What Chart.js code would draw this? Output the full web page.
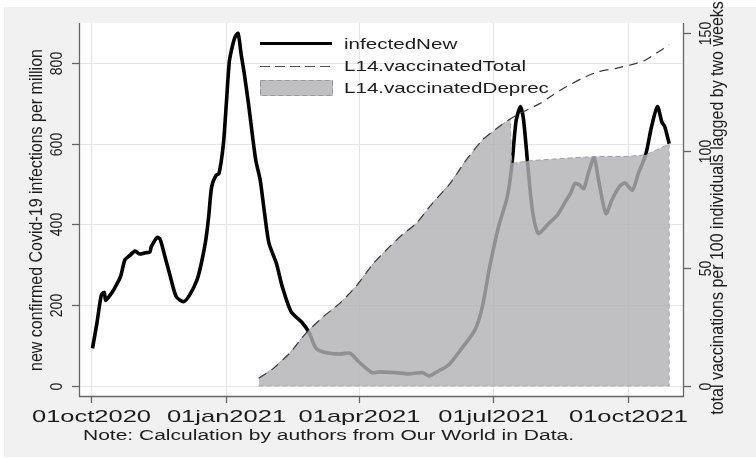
<!DOCTYPE html>
<html>
<head>
<meta charset="utf-8">
<script src="https://cdn.jsdelivr.net/npm/chart.js@4.4.1/dist/chart.umd.min.js"></script>
<style>
    body { margin: 0; background: #fff; }
    canvas { display: block; }
</style>
</head>
<body>
<canvas id="covidChart" width="756" height="458"></canvas>
<script>
// days since 01oct2020
var infDays = [1, 4, 7, 9, 10, 13, 16, 20, 23, 26, 30, 33, 37, 40, 41, 45, 47, 50, 54, 58, 63, 67, 72, 75, 78, 80, 82, 85, 87, 90,
    92, 94, 96, 98, 100, 102, 104, 107, 109, 112, 115, 118, 121, 126, 130, 136, 143, 148, 153, 159, 169, 176, 182, 191, 196,
    207, 216, 225, 230, 234, 243, 252, 261, 266, 271, 277, 283, 286, 289, 292, 294, 297, 300, 304, 309, 311, 317, 323, 326,
    329, 332, 335, 338, 342, 345, 350, 354, 359, 363, 368, 372, 377, 381, 385, 388, 390, 393];
var infValues = [93, 155, 225, 232, 212, 225, 242, 270, 312, 322, 334, 327, 330, 332, 345, 368, 363, 324, 270, 221, 209, 225, 262, 304, 361, 420, 493, 522, 526, 600,
    700, 803, 840, 865, 873, 823, 778, 700, 642, 559, 510, 427, 353, 304, 246, 184, 159, 134, 93, 83, 79, 81, 60, 33, 35,
    33, 30, 33, 25, 33, 52, 93, 139, 196, 295, 394, 469, 545, 658, 692, 660, 543, 436, 378, 394, 402, 423, 460, 477,
    502, 498, 489, 526, 565, 510, 427, 460, 493, 503, 485, 526, 572, 642, 692, 654, 642, 600];

var totalDays = [114, 124, 135, 146, 158, 169, 180, 192, 203, 212, 221, 232, 244, 255, 266, 278, 285, 289, 305, 314, 323, 334, 345, 357, 370, 377, 384, 393];
var totalValues = [3.3, 7.5, 13.9, 22.4, 29.5, 35.1, 42.2, 52.1, 59.2, 64.5, 69, 77.6, 86, 96, 104.5, 110.5, 113.5, 115, 120, 123.7, 127.2, 130.8, 133.6, 135, 137, 138.5, 141.3, 145];

var deprecDays = [114, 124, 135, 146, 158, 169, 180, 192, 203, 212, 221, 232, 244, 255, 266, 278, 285, 286, 300, 323, 343, 363, 377, 393];
var deprecValues = [3.3, 7.5, 13.9, 22.4, 29.5, 35.1, 42.2, 52.1, 59.2, 64.5, 69, 77.6, 86, 96, 104.5, 110.5, 113.5, 94.6, 95.8, 96.8, 97.5, 97.5, 98.2, 102.8];

var xTickDays = [0, 92, 182, 273, 365];
var xTickLabels = ['01oct2020', '01jan2021', '01apr2021', '01jul2021', '01oct2021'];
var yLeftTicks = [0, 200, 400, 600, 800];
var yRightTicks = [0, 50, 100, 150];

var seriesNames = ['infectedNew', 'L14.vaccinatedTotal', 'L14.vaccinatedDeprec'];
var noteText = 'Note: Calculation by authors from Our World in Data.';

var fillColor = 'rgba(177,178,180,0.81)';
var textColor = '#1c1c1c';

function toPoints(days, vals) {
    return days.map(function (d, i) { return { x: d, y: vals[i] }; });
}

// Stata-like wide text: stretched horizontally
function wideText(ctx, txt, x, y, size, sx, align, rot) {
    ctx.save();
    ctx.translate(x, y);
    ctx.scale(sx, 1);
    if (rot) ctx.rotate(rot);
    ctx.font = size + 'px "Liberation Sans", Arial, sans-serif';
    ctx.fillStyle = textColor;
    ctx.textAlign = align;
    ctx.textBaseline = 'alphabetic';
    ctx.fillText(txt, 0, 0);
    ctx.restore();
}

var stataLook = {
    id: 'stataLook',
    beforeDraw: function (chart) {
        var ctx = chart.ctx, a = chart.chartArea;
        ctx.save();
        ctx.fillStyle = '#fff';
        ctx.fillRect(0, 0, chart.width, chart.height);
        ctx.fillStyle = '#f1f1f1';
        ctx.fillRect(4, 7, chart.width - 4, chart.height - 8);
        ctx.fillStyle = '#fff';
        ctx.fillRect(a.left, a.top, a.right - a.left, a.bottom - a.top);
        ctx.restore();
    },
    beforeDatasetsDraw: function (chart) {
        var ctx = chart.ctx, a = chart.chartArea;
        var xs = chart.scales.x, y = chart.scales.y;
        ctx.save();
        ctx.strokeStyle = '#e6e6e6';
        ctx.lineWidth = 1;
        yLeftTicks.forEach(function (v) {
            var py = Math.round(y.getPixelForValue(v)) + 0.5;
            ctx.beginPath(); ctx.moveTo(a.left, py); ctx.lineTo(a.right, py); ctx.stroke();
        });
        xTickDays.forEach(function (d) {
            var px = Math.round(xs.getPixelForValue(d)) + 0.5;
            ctx.beginPath(); ctx.moveTo(px, a.top); ctx.lineTo(px, a.bottom); ctx.stroke();
        });
        ctx.restore();
    },
    afterDatasetsDraw: function (chart) {
        var ctx = chart.ctx, a = chart.chartArea;
        var xs = chart.scales.x, y = chart.scales.y, y1 = chart.scales.y1;
        ctx.save();

        // dashed outline on bottom and right side of the area
        var last = deprecDays.length - 1;
        var ax0 = xs.getPixelForValue(deprecDays[0]), ax1 = xs.getPixelForValue(deprecDays[last]);
        var ay0 = y1.getPixelForValue(0), ayTop = y1.getPixelForValue(deprecValues[last]);
        ctx.strokeStyle = '#a8a8a8';
        ctx.lineWidth = 1;
        ctx.setLineDash([5, 3]);
        ctx.beginPath();
        ctx.moveTo(ax0, ay0); ctx.lineTo(ax1, ay0); ctx.lineTo(ax1, ayTop);
        ctx.stroke();
        ctx.setLineDash([]);

        // axes + tick marks
        ctx.strokeStyle = '#666';
        ctx.lineWidth = 1.3;
        ctx.beginPath();
        ctx.moveTo(a.left + 0.5, a.top); ctx.lineTo(a.left + 0.5, a.bottom + 0.5);
        ctx.lineTo(a.right + 0.5, a.bottom + 0.5); ctx.lineTo(a.right + 0.5, a.top);
        ctx.stroke();
        yLeftTicks.forEach(function (v) {
            var py = Math.round(y.getPixelForValue(v)) + 0.5;
            ctx.beginPath(); ctx.moveTo(a.left - 7, py); ctx.lineTo(a.left, py); ctx.stroke();
            wideText(ctx, String(v), a.left - 17, py, 14, 1.2, 'center', -Math.PI / 2);
        });
        yRightTicks.forEach(function (v) {
            var py = Math.round(y1.getPixelForValue(v)) + 0.5;
            ctx.beginPath(); ctx.moveTo(a.right, py); ctx.lineTo(a.right + 8, py); ctx.stroke();
            wideText(ctx, String(v), a.right + 28, py, 14, 1.2, 'center', -Math.PI / 2);
        });
        xTickDays.forEach(function (d, i) {
            var px = Math.round(xs.getPixelForValue(d)) + 0.5;
            ctx.beginPath(); ctx.moveTo(px, a.bottom); ctx.lineTo(px, a.bottom + 7); ctx.stroke();
            wideText(ctx, xTickLabels[i], px, 422, 17, 1.5, 'center');
        });

        // axis titles
        wideText(ctx, 'new confirmed Covid-19 infections per million', 42, 210, 16, 1.2, 'center', -Math.PI / 2);
        wideText(ctx, 'total vaccinations per 100 individuals lagged by two weeks', 723, 208, 16, 1.2, 'center', -Math.PI / 2);

        // note
        wideText(ctx, noteText, 83, 440, 14, 1.5, 'left');

        // legend inside plot
        ctx.lineWidth = 2.8;
        ctx.strokeStyle = '#000';
        ctx.beginPath(); ctx.moveTo(260, 43.5); ctx.lineTo(332, 43.5); ctx.stroke();
        ctx.lineWidth = 1.2;
        ctx.strokeStyle = '#555';
        ctx.setLineDash([10, 5]);
        ctx.beginPath(); ctx.moveTo(260, 66.5); ctx.lineTo(332, 66.5); ctx.stroke();
        ctx.fillStyle = fillColor;
        ctx.fillRect(260, 80, 73, 16);
        ctx.strokeStyle = '#999';
        ctx.lineWidth = 1;
        ctx.setLineDash([5, 3]);
        ctx.strokeRect(260.5, 80.5, 72, 15);
        ctx.setLineDash([]);
        wideText(ctx, seriesNames[0], 344, 49, 14.5, 1.42, 'left');
        wideText(ctx, seriesNames[1], 344, 71, 14.5, 1.42, 'left');
        wideText(ctx, seriesNames[2], 344, 93, 14.5, 1.42, 'left');

        ctx.restore();
    }
};

var ctx = document.getElementById('covidChart').getContext('2d');
var covidChart = new Chart(ctx, {
    type: 'line',
    data: {
        datasets: [{
            label: seriesNames[0],
            data: toPoints(infDays, infValues),
            yAxisID: 'y',
            borderColor: '#000',
            borderWidth: 3.6,
            pointRadius: 0,
            tension: 0.25,
            fill: false,
            order: 3
        }, {
            label: seriesNames[1],
            data: toPoints(totalDays, totalValues),
            yAxisID: 'y1',
            borderColor: '#3a3a3a',
            borderWidth: 1.2,
            borderDash: [9, 6],
            pointRadius: 0,
            tension: 0.2,
            fill: false,
            order: 1
        }, {
            label: seriesNames[2],
            data: toPoints(deprecDays, deprecValues),
            yAxisID: 'y1',
            borderColor: '#a0a0a0',
            borderWidth: 1,
            borderDash: [5, 3],
            backgroundColor: fillColor,
            pointRadius: 0,
            tension: 0,
            fill: 'origin',
            order: 2
        }]
    },
    options: {
        responsive: false,
        animation: false,
        layout: { padding: { left: 79, top: 23, right: 73, bottom: 62 } },
        plugins: {
            legend: { display: false },
            tooltip: { enabled: false }
        },
        scales: {
            x: { type: 'linear', min: -8.16, max: 402.4, display: false },
            y: { type: 'linear', position: 'left', min: -24.8, max: 899, display: false },
            y1: { type: 'linear', position: 'right', min: -4.25, max: 154.25, display: false }
        }
    },
    plugins: [stataLook]
});
</script>
</body>
</html>
